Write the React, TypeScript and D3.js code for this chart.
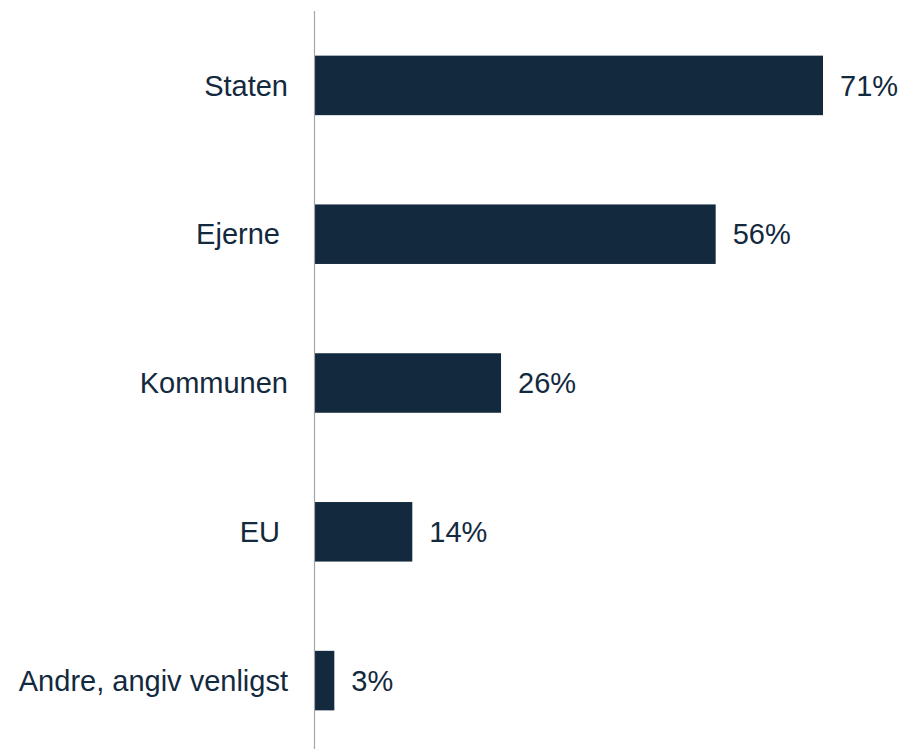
import React, { useEffect, useRef } from 'react';
import * as d3 from 'd3';

const categories = ['Staten', 'Ejerne ', 'Kommunen', 'EU ', 'Andre, angiv venligst'];
const values = [71, 56, 26, 13.6, 2.7];
const valueLabels = ['71%', '56%', '26%', '14%', '3%'];

const App = () => {
    const ref = useRef<SVGSVGElement>(null);

    useEffect(() => {
        const width = 902;
        const height = 749;
        const axisX = 315;

        const svg = d3.select(ref.current);
        svg.selectAll('*').remove();
        svg.attr('width', width).attr('height', height);

        const y = d3.scaleBand<string>()
            .domain(categories)
            .range([11, 755])
            .paddingInner(0.6)
            .paddingOuter(0.3);

        const x = d3.scaleLinear()
            .domain([0, 100])
            .range([axisX, axisX + 715.5]);

        const rows = categories.map((c, i) => ({ c, v: values[i], label: valueLabels[i] }));

        // bars
        svg.selectAll('rect.bar')
            .data(rows)
            .enter()
            .append('rect')
            .attr('class', 'bar')
            .attr('x', x(0))
            .attr('y', d => y(d.c)!)
            .attr('width', d => x(d.v) - x(0))
            .attr('height', y.bandwidth())
            .attr('fill', '#13293e');

        // axis line
        svg.append('line')
            .attr('x1', axisX - 0.5)
            .attr('x2', axisX - 0.5)
            .attr('y1', 11)
            .attr('y2', height)
            .attr('stroke', '#a6a6a6')
            .attr('stroke-width', 1.2);

        // category labels
        svg.selectAll('text.cat')
            .data(rows)
            .enter()
            .append('text')
            .attr('class', 'cat')
            .attr('x', axisX - 27)
            .attr('y', d => y(d.c)! + y.bandwidth() / 2)
            .attr('dy', '0.35em')
            .attr('text-anchor', 'end')
            .style('white-space', 'pre')
            .attr('font-family', 'Liberation Sans, Arial, sans-serif')
            .attr('font-size', 29)
            .attr('fill', '#13293e')
            .text(d => d.c);

        // value labels
        svg.selectAll('text.val')
            .data(rows)
            .enter()
            .append('text')
            .attr('class', 'val')
            .attr('x', d => x(d.v) + 17)
            .attr('y', d => y(d.c)! + y.bandwidth() / 2)
            .attr('dy', '0.35em')
            .attr('font-family', 'Liberation Sans, Arial, sans-serif')
            .attr('font-size', 29)
            .attr('fill', '#13293e')
            .text(d => d.label);
    }, []);

    return <svg ref={ref} style={{ position: 'absolute', left: 0, top: 0, display: 'block' }}></svg>;
};

export default App;
